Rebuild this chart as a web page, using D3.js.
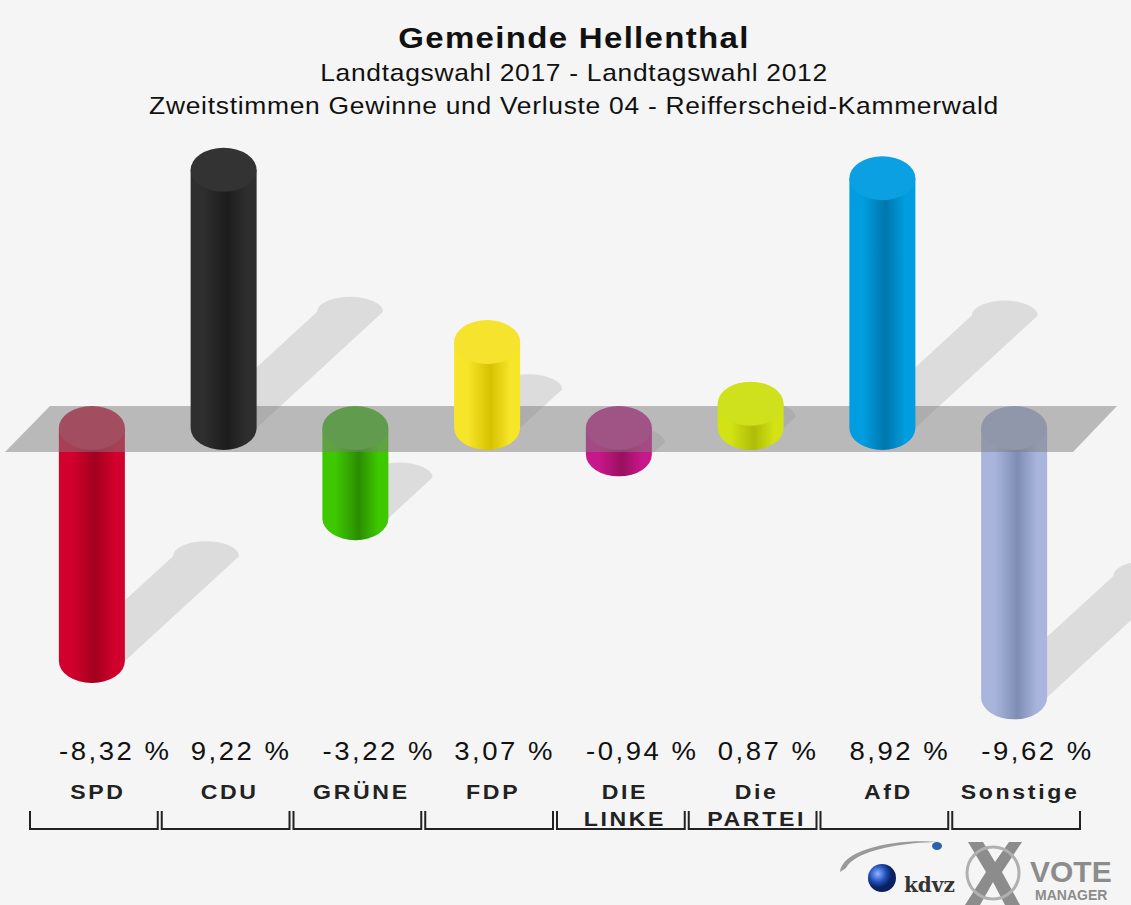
<!DOCTYPE html>
<html>
<head>
<meta charset="utf-8">
<script src="https://cdn.jsdelivr.net/npm/d3@7"></script>
<style>
  body { margin: 0; background: #f5f5f5; }
  svg { display: block; }
</style>
</head>
<body>
<script>
// data
const parties = ["SPD", "CDU", "GRÜNE", "FDP", "DIE LINKE", "Die PARTEI", "AfD", "Sonstige"];
const labelLines = [["SPD"], ["CDU"], ["GRÜNE"], ["FDP"], ["DIE", "LINKE"], ["Die", "PARTEI"], ["AfD"], ["Sonstige"]];
const values = [-8.32, 9.22, -3.22, 3.07, -0.94, 0.87, 8.92, -9.62];
const sideColors = ["#d2002c", "#2e2e2e", "#3ec800", "#f7e52a", "#c8178a", "#d2e214", "#009ee0", "#a9b5dd"];
const darkColors = ["#a3001f", "#1c1c1c", "#2a8d00", "#d6c200", "#98105f", "#aebc08", "#0076ae", "#7f8db5"];
const capColors = ["#c81e42", "#333333", "#45b81e", "#f5e32e", "#c02a8c", "#cfe01c", "#0aa0e2", "#a4b0d6"];
const titles = ["Gemeinde Hellenthal", "Landtagswahl 2017 - Landtagswahl 2012", "Zweitstimmen Gewinne und Verluste 04 - Reifferscheid-Kammerwald"];

const W = 1131, H = 905;
const rx = 33, ry = 22;
const sx = 1.1; // the original glyphs are a bit wider than Liberation Sans

const svg = d3.select("body").append("svg")
  .attr("width", W)
  .attr("height", H)
  .style("background-color", "#f5f5f5")
  .style("font-family", "'Liberation Sans', Arial, sans-serif");

const x = d3.scaleBand().domain(parties).range([28, 1082]);
const y = d3.scaleLinear().domain([0, 10]).range([428, 148]);
const cx = p => x(p) + x.bandwidth() / 2 - 2;
const fmt = v => d3.format(".2f")(v).replace("−", "-").replace(".", ",") + " %";

// titles
const titleStyle = [
  { y: 48, size: 30, bold: true, ls: 1.2 },
  { y: 81, size: 24, bold: false, ls: 0.65 },
  { y: 114, size: 24, bold: false, ls: 0.65 }
];
titles.forEach((t, i) => {
  svg.append("text")
    .attr("transform", `translate(574,${titleStyle[i].y}) scale(${sx},1)`)
    .attr("text-anchor", "middle")
    .attr("font-size", titleStyle[i].size + "px")
    .attr("font-weight", titleStyle[i].bold ? "bold" : "normal")
    .attr("letter-spacing", titleStyle[i].ls + "px")
    .attr("fill", "#111")
    .text(t);
});

// gradients
const defs = svg.append("defs");
parties.forEach((p, i) => {
  const g = defs.append("linearGradient").attr("id", "g" + i)
    .attr("x1", "0%").attr("x2", "100%").attr("y1", "0%").attr("y2", "0%");
  g.append("stop").attr("offset", "0%").attr("stop-color", sideColors[i]);
  g.append("stop").attr("offset", "20%").attr("stop-color", sideColors[i]);
  g.append("stop").attr("offset", "55%").attr("stop-color", darkColors[i]);
  g.append("stop").attr("offset", "85%").attr("stop-color", sideColors[i]);
  g.append("stop").attr("offset", "100%").attr("stop-color", sideColors[i]);
});

const data = parties.map((p, i) => ({ p, i, v: values[i] }));
const lowEnd = d => d.v >= 0 ? y(0) : y(d.v);
const highEnd = d => d.v >= 0 ? y(d.v) : y(0);

// shadows
svg.selectAll(".shadow").data(data).enter().append("path")
  .attr("fill", "#dcdcdc")
  .attr("d", d => {
    const c = cx(d.p), yb = lowEnd(d), len = Math.abs(y(d.v) - y(0));
    const dx = 0.49 * len, dy = 0.45 * len, sr = 15;
    return `M${c - rx},${yb} L${c - rx + dx},${yb - dy} A${rx},${sr} 0 0 1 ${c + rx + dx},${yb - dy} L${c + rx},${yb} A${rx},${ry} 0 0 1 ${c - rx},${yb} Z`;
  });

function drawBars(sel) {
  const g = svg.selectAll(null).data(sel).enter().append("g");
  g.append("path")
    .attr("fill", d => `url(#g${d.i})`)
    .attr("d", d => {
      const c = cx(d.p), yt = highEnd(d), yb = lowEnd(d);
      return `M${c - rx},${yt} L${c - rx},${yb} A${rx},${ry} 0 0 0 ${c + rx},${yb} L${c + rx},${yt} Z`;
    });
  g.append("ellipse")
    .attr("cx", d => cx(d.p)).attr("cy", d => highEnd(d))
    .attr("rx", rx).attr("ry", ry)
    .attr("fill", d => capColors[d.i]);
}

// negative bars sit under the plane
drawBars(data.filter(d => d.v < 0));

// zero plane
const y0 = y(0);
svg.append("path")
  .attr("d", `M5,${y0 + 24} L50,${y0 - 22} L1117,${y0 - 22} L1073,${y0 + 24} Z`)
  .attr("fill", "rgba(125,125,125,0.5)");

drawBars(data.filter(d => d.v >= 0));

// value labels
svg.selectAll(".val").data(data).enter().append("text")
  .attr("transform", d => `translate(${x(d.p) + 31},760) scale(${sx},1)`)
  .attr("font-size", "25px")
  .attr("letter-spacing", "2.3px")
  .attr("fill", "#111")
  .text(d => fmt(d.v));

// category labels
const cat = svg.selectAll(".cat").data(data).enter().append("text")
  .attr("transform", d => `translate(${cx(d.p) + 6},799) scale(${sx},1)`)
  .attr("text-anchor", "middle")
  .attr("font-size", "21px")
  .attr("font-weight", "bold")
  .attr("letter-spacing", "2.4px")
  .attr("fill", "#222");
cat.selectAll("tspan").data(d => labelLines[d.i])
  .enter().append("tspan")
  .attr("x", 0)
  .attr("y", (d, k) => k * 27)
  .text(d => d);

// brackets
svg.selectAll(".br").data(parties).enter().append("path")
  .attr("fill", "none").attr("stroke", "#222").attr("stroke-width", 2)
  .attr("d", p => {
    const a = x(p) + 2, b = x(p) + x.bandwidth() - 2;
    return `M${a},811 L${a},829 L${b},829 L${b},811`;
  });

// logo
const logo = svg.append("g");
logo.append("path").attr("d", "M840,872 C842,848 900,838 940,842 C905,842 855,850 846,868 Z")
  .attr("fill", "#9a9a9a");
logo.append("ellipse").attr("cx", 937).attr("cy", 846).attr("rx", 5).attr("ry", 4).attr("fill", "#2c5fb0");
const rg = defs.append("radialGradient").attr("id", "ball").attr("cx", "35%").attr("cy", "35%");
rg.append("stop").attr("offset", "0%").attr("stop-color", "#8fb4ff");
rg.append("stop").attr("offset", "60%").attr("stop-color", "#1f4fb8");
rg.append("stop").attr("offset", "100%").attr("stop-color", "#0a2060");
logo.append("circle").attr("cx", 882).attr("cy", 878).attr("r", 14).attr("fill", "url(#ball)");
logo.append("text").attr("x", 904).attr("y", 892).attr("font-size", "20px").attr("font-weight", "bold")
  .attr("font-family", "'DejaVu Serif', serif").attr("fill", "#333").text("kdvz");
logo.append("path").attr("d", "M968,842 L983,842 L995,862 L1009,842 L1022,842 L1002,872 L1020,905 L1005,905 L993,882 L980,905 L965,905 L986,872 Z")
  .attr("fill", "#8c8c8c");
logo.append("circle").attr("cx", 993).attr("cy", 873).attr("r", 26).attr("fill", "none").attr("stroke", "#b0b0b0").attr("stroke-width", 3);
logo.append("text").attr("x", 1030).attr("y", 882).attr("font-size", "30px").attr("font-weight", "bold")
  .attr("fill", "#8c8c8c").text("VOTE");
logo.append("text").attr("x", 1035).attr("y", 900).attr("font-size", "14px").attr("font-weight", "bold")
  .attr("fill", "#8c8c8c").text("MANAGER");
</script>
</body>
</html>
